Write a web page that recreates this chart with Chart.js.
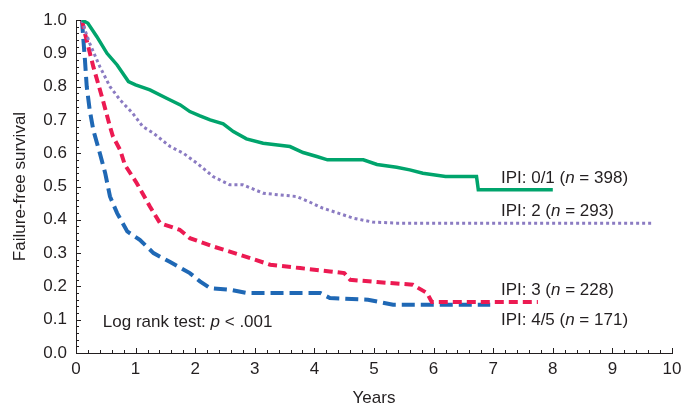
<!DOCTYPE html>
<html>
<head>
<meta charset="utf-8">
<script src="https://cdn.jsdelivr.net/npm/chart.js@4.4.1/dist/chart.umd.min.js"></script>
<style>
  html, body { margin: 0; padding: 0; background: #fff; }
  #wrap { width: 684px; height: 405px; position: relative; }
</style>
</head>
<body>
<div id="wrap"><canvas id="kmChart"></canvas></div>
<script>
// Failure-free survival by IPI group
const ipi01 = [
  [0.1, 1.0], [0.2, 0.99], [0.35, 0.95], [0.52, 0.9], [0.69, 0.865], [0.88, 0.815],
  [1.0, 0.805], [1.24, 0.79], [1.52, 0.765], [1.75, 0.745], [1.91, 0.725], [2.08, 0.712],
  [2.25, 0.70], [2.47, 0.688], [2.64, 0.665], [2.86, 0.643], [3.14, 0.63], [3.59, 0.62],
  [3.81, 0.602], [4.04, 0.59], [4.22, 0.58], [4.82, 0.58], [5.05, 0.566], [5.38, 0.558],
  [5.6, 0.55], [5.82, 0.54], [6.2, 0.53], [6.72, 0.53], [6.75, 0.49], [8.0, 0.49]
];
const ipi2 = [
  [0.1, 1.0], [0.15, 0.97], [0.23, 0.93], [0.4, 0.86], [0.57, 0.8], [0.74, 0.76],
  [0.95, 0.72], [1.12, 0.68], [1.3, 0.66], [1.58, 0.62], [1.8, 0.6], [2.03, 0.57],
  [2.3, 0.53], [2.58, 0.505], [2.8, 0.505], [3.14, 0.48], [3.4, 0.475], [3.7, 0.47],
  [3.9, 0.455], [4.14, 0.435], [4.4, 0.42], [4.65, 0.405], [4.98, 0.393], [5.38, 0.39],
  [9.65, 0.39]
];
const ipi3 = [
  [0.1, 1.0], [0.15, 0.96], [0.29, 0.86], [0.45, 0.76], [0.57, 0.68], [0.62, 0.65],
  [0.74, 0.61], [0.82, 0.565], [1.02, 0.51], [1.24, 0.44], [1.41, 0.39], [1.74, 0.37],
  [1.91, 0.345], [2.3, 0.32], [2.75, 0.295], [3.26, 0.265], [3.76, 0.255], [4.26, 0.245],
  [4.5, 0.24], [4.6, 0.22], [5.05, 0.213], [5.65, 0.205], [5.89, 0.18], [5.97, 0.153],
  [7.75, 0.153]
];
const ipi45 = [
  [0.1, 1.0], [0.12, 0.95], [0.15, 0.88], [0.18, 0.8], [0.23, 0.73], [0.29, 0.67],
  [0.4, 0.6], [0.49, 0.54], [0.57, 0.47], [0.69, 0.42], [0.86, 0.365], [1.07, 0.34],
  [1.3, 0.30], [1.58, 0.273], [1.91, 0.24], [2.08, 0.215], [2.25, 0.195], [2.58, 0.19],
  [2.87, 0.18], [3.59, 0.18], [4.1, 0.18], [4.26, 0.165], [4.9, 0.16], [5.32, 0.145],
  [6.95, 0.145]
];

// curve labels: [years, survival, prefix, n]
const curveLabels = [
  [7.13, 0.525, 'IPI: 0/1 (', '398'],
  [7.13, 0.426, 'IPI: 2 (', '293'],
  [7.13, 0.189, 'IPI: 3 (', '228'],
  [7.13, 0.099, 'IPI: 4/5 (', '171']
];
const logRankText = [0.45, 0.093];

const xTicks = [0, 1, 2, 3, 4, 5, 6, 7, 8, 9, 10];
const yTicks = [0, 0.1, 0.2, 0.3, 0.4, 0.5, 0.6, 0.7, 0.8, 0.9, 1.0];

const toXY = arr => arr.map(p => ({ x: p[0], y: p[1] }));
const FONT = '"Liberation Sans", Arial, Helvetica, sans-serif';
const INK = '#231f20';

// inward tick marks (major + minor) like the printed figure
const innerTicks = {
  id: 'innerTicks',
  afterDraw(chart) {
    const { ctx, scales: { x, y } } = chart;
    ctx.save();
    ctx.strokeStyle = INK;
    ctx.lineWidth = 1;
    ctx.beginPath();
    for (let i = 0; i <= 50; i++) {
      const px = Math.round(x.getPixelForValue(i * 0.2)) + 0.5;
      const len = i % 5 === 0 ? 5 : 3;
      ctx.moveTo(px, y.bottom);
      ctx.lineTo(px, y.bottom - len);
    }
    for (let i = 0; i <= 50; i++) {
      const py = Math.round(y.getPixelForValue(i * 0.02)) + 0.5;
      const len = i % 5 === 0 ? 5 : 3;
      ctx.moveTo(x.left, py);
      ctx.lineTo(x.left + len, py);
    }
    ctx.stroke();
    ctx.restore();
  }
};

const textLabels = {
  id: 'textLabels',
  afterDraw(chart) {
    const { ctx, scales: { x, y } } = chart;
    ctx.save();
    ctx.fillStyle = INK;
    ctx.textBaseline = 'middle';
    const drawParts = (parts, px, py) => {
      let cx = px;
      parts.forEach(([txt, italic]) => {
        ctx.font = (italic ? 'italic ' : '') + '17px ' + FONT;
        ctx.fillText(txt, cx, py);
        cx += ctx.measureText(txt).width;
      });
    };
    curveLabels.forEach(([t, s, pre, n]) => {
      drawParts([[pre, false], ['n', true], [' = ' + n + ')', false]],
        x.getPixelForValue(t), y.getPixelForValue(s));
    });
    drawParts([['Log rank test: ', false], ['p', true], [' < .001', false]],
      x.getPixelForValue(logRankText[0]), y.getPixelForValue(logRankText[1]));
    ctx.restore();
  }
};

new Chart(document.getElementById('kmChart'), {
  type: 'line',
  data: {
    datasets: [
      { label: 'IPI 0/1', data: toXY(ipi01), borderColor: '#00a46c', borderWidth: 3.5 },
      { label: 'IPI 2', data: toXY(ipi2), borderColor: '#8b7bc2', borderWidth: 3, borderDash: [3, 3] },
      { label: 'IPI 3', data: toXY(ipi3), borderColor: '#ec1a52', borderWidth: 4, borderDash: [9, 5] },
      { label: 'IPI 4/5', data: toXY(ipi45), borderColor: '#1f68b5', borderWidth: 4, borderDash: [13, 6] }
    ]
  },
  options: {
    responsive: true,
    maintainAspectRatio: false,
    animation: false,
    layout: { padding: { left: 0, right: 12, top: 20, bottom: 0 } },
    elements: {
      point: { radius: 0 },
      line: { tension: 0, fill: false, borderCapStyle: 'butt', borderJoinStyle: 'miter' }
    },
    plugins: {
      legend: { display: false },
      tooltip: { enabled: false }
    },
    scales: {
      x: {
        type: 'linear',
        min: 0,
        max: 10,
        afterBuildTicks: s => { s.ticks = xTicks.map(v => ({ value: v })); },
        afterFit: s => { s.height = 52; s.paddingLeft = 0; s.paddingRight = 0; },
        ticks: { color: INK, font: { family: FONT, size: 17 }, padding: 6, maxRotation: 0 },
        grid: { drawOnChartArea: false, drawTicks: false },
        border: { color: INK, width: 1 },
        title: { display: true, text: 'Years', color: INK, font: { family: FONT, size: 17 }, padding: { top: 0, bottom: -4 } }
      },
      y: {
        type: 'linear',
        min: 0,
        max: 1,
        afterBuildTicks: s => { s.ticks = yTicks.map(v => ({ value: v })); },
        afterFit: s => { s.width = 76; s.paddingTop = 0; s.paddingBottom = 0; },
        ticks: { color: INK, font: { family: FONT, size: 17 }, padding: 9, callback: v => v.toFixed(1) },
        grid: { drawOnChartArea: false, drawTicks: false },
        border: { color: INK, width: 1 },
        title: { display: true, text: 'Failure-free survival', color: INK, font: { family: FONT, size: 17 }, padding: { top: 10, bottom: 0 } }
      }
    }
  },
  plugins: [innerTicks, textLabels]
});
</script>
</body>
</html>
